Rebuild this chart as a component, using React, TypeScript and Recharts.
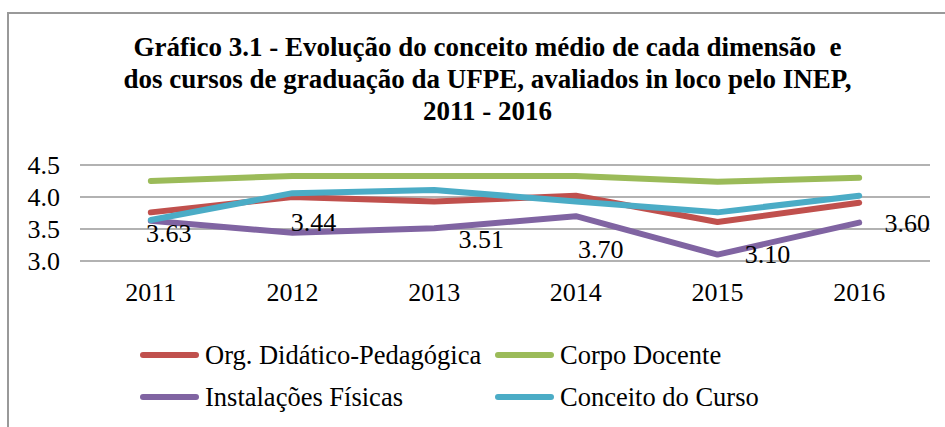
import React from 'react';
import { LineChart, Line, XAxis, YAxis, CartesianGrid, Legend, LabelList } from 'recharts';

const years = ['2011', '2012', '2013', '2014', '2015', '2016'];
const orgDidatica = [3.76, 4.0, 3.93, 4.02, 3.61, 3.91];
const corpoDocente = [4.25, 4.33, 4.33, 4.33, 4.24, 4.30];
const instalacoes = [3.63, 3.44, 3.51, 3.70, 3.10, 3.60];
const conceitoCurso = [3.64, 4.06, 4.11, 3.93, 3.76, 4.02];
const yTicks = [3.0, 3.5, 4.0, 4.5];
const titleLines = [
  'Gráfico 3.1 - Evolução do conceito médio de cada dimensão  e',
  'dos cursos de graduação da UFPE, avaliados in loco pelo INEP,',
  '2011 - 2016',
];

const series = [
  { key: 'org', name: 'Org. Didático-Pedagógica', color: '#C0504D', values: orgDidatica },
  { key: 'corpo', name: 'Corpo Docente', color: '#9BBB59', values: corpoDocente },
  { key: 'inst', name: 'Instalações Físicas', color: '#8064A2', values: instalacoes },
  { key: 'conc', name: 'Conceito do Curso', color: '#4BACC6', values: conceitoCurso },
];

const data = years.map((y, i) => {
  const row: any = { year: y };
  series.forEach((s) => (row[s.key] = s.values[i]));
  return row;
});

// label placement offsets (style), like the manually moved labels in the original
const labelOffsets = [
  [18, 13],
  [21, -10],
  [47, 11],
  [25, 33],
  [50, 0],
  [48, 1],
];

const FONT = '"Liberation Serif", "Times New Roman", serif';

const renderLabel = (props: any) => {
  const { x, y, value, index } = props;
  const [dx, dy] = labelOffsets[index] || [0, 0];
  return (
    <text
      x={x + dx}
      y={y + dy}
      textAnchor="middle"
      dominantBaseline="central"
      fontFamily={FONT}
      fontSize={26}
      fill="#000"
    >
      {Number(value).toFixed(2)}
    </text>
  );
};

const legendPos = [
  { x: 140, y: 355 },
  { x: 495, y: 355 },
  { x: 140, y: 397 },
  { x: 495, y: 397 },
];

const renderLegend = () => (
  <div style={{ position: 'relative', width: 0, height: 0 }}>
    {series.map((s, i) => (
      <div
        key={s.key}
        style={{
          position: 'absolute',
          left: legendPos[i].x,
          top: legendPos[i].y - 16,
          height: 32,
          display: 'flex',
          alignItems: 'center',
          whiteSpace: 'nowrap',
        }}
      >
        <svg width={60} height={10} style={{ display: 'block' }}>
          <line x1={3} y1={5} x2={56} y2={5} stroke={s.color} strokeWidth={6} strokeLinecap="round" />
        </svg>
        <span style={{ fontFamily: FONT, fontSize: 26.5, color: '#000', marginLeft: 5 }}>{s.name}</span>
      </div>
    ))}
  </div>
);

export default function App() {
  return (
    <div style={{ position: 'absolute', left: 0, top: 0, width: 945, height: 427, background: '#fff', overflow: 'hidden' }}>
      <div
        style={{
          position: 'absolute',
          left: 7,
          top: 12,
          width: 960,
          height: 440,
          borderTop: '2px solid #999',
          borderLeft: '2px solid #999',
        }}
      />
      <div
        style={{
          position: 'absolute',
          left: 0,
          top: 31,
          width: 975,
          textAlign: 'center',
          fontFamily: FONT,
          fontWeight: 'bold',
          fontSize: 27,
          lineHeight: '32px',
          color: '#000',
        }}
      >
        {titleLines.map((t, i) => (
          <div key={i} style={{ whiteSpace: 'pre' }}>{t}</div>
        ))}
      </div>
      <div style={{ position: 'absolute', left: 0, top: 0 }}>
        <LineChart width={945} height={427} data={data} margin={{ top: 165, right: 15, bottom: 126, left: 0 }}>
          <CartesianGrid horizontal vertical={false} stroke="#999" strokeWidth={1.5} />
          <XAxis
            dataKey="year"
            scale="band"
            axisLine={false}
            tickLine={false}
            tickSize={0}
            tickMargin={22}
            height={40}
            tick={{ fontFamily: FONT, fontSize: 26, fill: '#000' }}
            interval={0}
          />
          <YAxis
            domain={[3, 4.5]}
            ticks={yTicks}
            interval={0}
            width={80}
            axisLine={false}
            tickLine={false}
            tickSize={0}
            tickMargin={20}
            tickFormatter={(v: number) => v.toFixed(1)}
            tick={{ fontFamily: FONT, fontSize: 26, fill: '#000' }}
          />
          {series.map((s) => (
            <Line
              key={s.key}
              dataKey={s.key}
              name={s.name}
              stroke={s.color}
              strokeWidth={6}
              dot={false}
              activeDot={false}
              isAnimationActive={false}
              strokeLinejoin="round"
              strokeLinecap="round"
            >
              {s.key === 'inst' ? <LabelList dataKey="inst" content={renderLabel} /> : null}
            </Line>
          ))}
          <Legend content={renderLegend} wrapperStyle={{ position: 'absolute', left: 0, top: 0, width: 0, height: 0, overflow: 'visible', pointerEvents: 'none' }} />
        </LineChart>
      </div>
    </div>
  );
}
